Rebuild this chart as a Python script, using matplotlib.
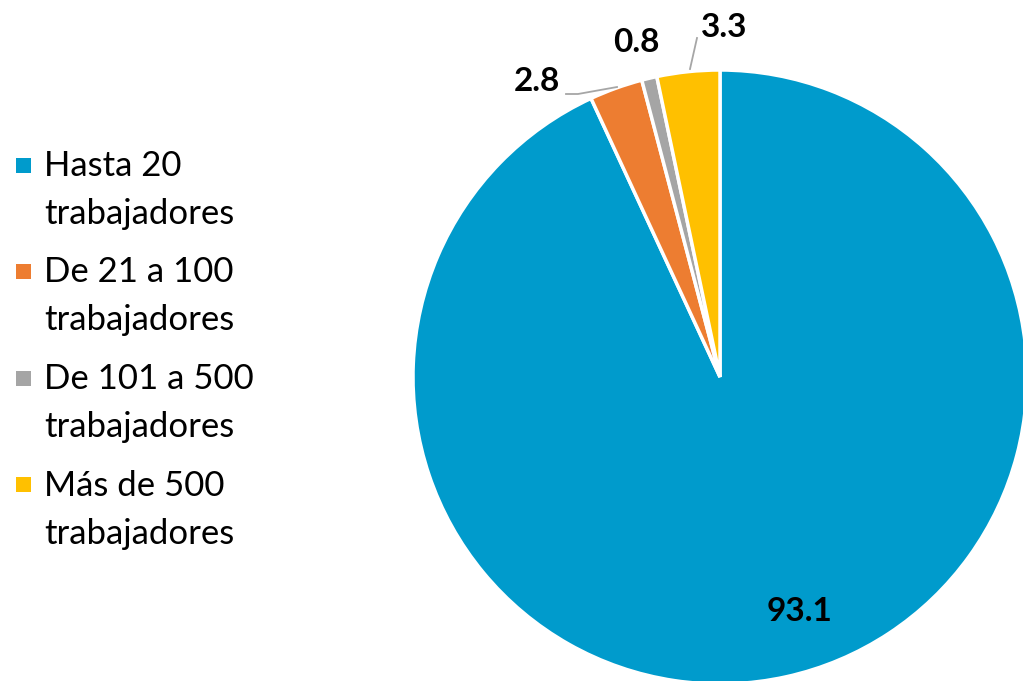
import matplotlib
matplotlib.use("Agg")
import matplotlib.pyplot as plt
from matplotlib.patches import Rectangle

categories = ["Hasta 20\ntrabajadores", "De 21 a 100\ntrabajadores",
              "De 101 a 500\ntrabajadores", "Más de 500\ntrabajadores"]
values = [93.1, 2.8, 0.8, 3.3]
labels = ["93.1", "2.8", "0.8", "3.3"]
colors = ["#009BCC", "#ED7D31", "#A5A5A5", "#FFC000"]

W, H = 1023, 681
fig = plt.figure(figsize=(W / 100, H / 100), dpi=100)
cx, cy, r = 720, 377, 307
ax = fig.add_axes([(cx - r) / W, (H - cy - r) / H, 2 * r / W, 2 * r / H])
ax.pie(values, colors=colors, startangle=90, counterclock=False,
       wedgeprops=dict(edgecolor="white", linewidth=2.5))
ax.set_xlim(-1, 1)
ax.set_ylim(-1, 1)
ax.set_axis_off()

font = "Lato"
label_pos = [(0.26, -0.765), (-0.596, 0.961), (-0.274, 1.091), (0.013, 1.137)]
for (x, y), t in zip(label_pos, labels):
    ax.text(x, y, t, ha="center", va="center", fontsize=24, fontweight="bold",
            family=font, color="black", clip_on=False)

def px(x, y):
    return ((x - cx) / r, (cy - y) / r)

# leader lines
l1 = [px(566, 94), px(578, 94), px(617, 87)]
ax.plot([p[0] for p in l1], [p[1] for p in l1], color="#A6A6A6", lw=1.3, clip_on=False)
l3 = [px(690, 69), px(697, 38)]
ax.plot([p[0] for p in l3], [p[1] for p in l3], color="#A6A6A6", lw=1.3, clip_on=False)

# legend drawn manually in figure pixel coordinates
first_center = 165.0
entry_step = 106.5
line_step = 48.0
sq = 15
for i, (cat, col) in enumerate(zip(categories, colors)):
    yc = first_center + i * entry_step
    fig.patches.append(Rectangle((16 / W, (H - yc - sq / 2) / H), sq / W, sq / H,
                                 transform=fig.transFigure, facecolor=col,
                                 edgecolor="none"))
    for j, line in enumerate(cat.split("\n")):
        base = yc + 11 + j * line_step
        fig.text(44 / W, (H - base) / H, line, ha="left", va="baseline",
                 family=font, fontsize=25, color="black")

fig.savefig("out.png", dpi=100)
